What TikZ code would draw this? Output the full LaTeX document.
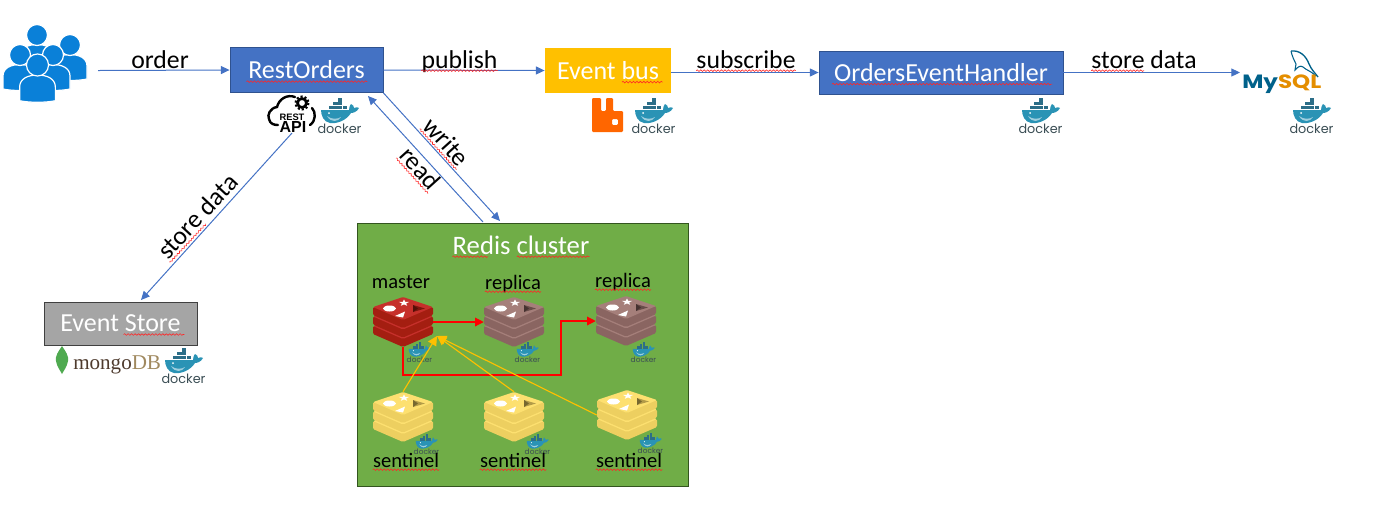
\documentclass[tikz,border=0pt]{standalone}
\usepackage{fontspec}
\setmainfont{Carlito}
\newfontfamily\logofont{Liberation Sans}
\newfontfamily\mongofont{Liberation Serif}
\newfontfamily\dockerfont{Poppins}
\usetikzlibrary{arrows.meta,calc,decorations.pathmorphing}
\definecolor{flowblue}{HTML}{4472C4}
\definecolor{boxedge}{HTML}{2F528F}
\definecolor{busgold}{HTML}{FFC000}
\definecolor{storegrey}{HTML}{A5A5A5}
\definecolor{redisgreen}{HTML}{70AD47}
\definecolor{redisedge}{HTML}{33551F}
\definecolor{crowdblue}{HTML}{0A80D8}
\definecolor{whaleblue}{HTML}{2A93B5}
\definecolor{whalecrate}{HTML}{2C6E88}
\definecolor{dockergrey}{HTML}{3A4D54}
\definecolor{rabbitorange}{HTML}{FF6600}
\definecolor{leafgreen}{HTML}{4FAA50}
\definecolor{mongobrown}{HTML}{4E3B2E}
\definecolor{mongotan}{HTML}{A0895F}
\definecolor{mysqlblue}{HTML}{00618A}
\definecolor{mysqlorange}{HTML}{E48E00}
\def\pxu{.75pt}
\tikzset{
  flow/.style={draw=flowblue,line width=.75pt,-{Triangle[length=6.5pt,width=6pt]}},
  failover/.style={draw=red,line width=.85pt,-{Triangle[length=6.5pt,width=6.5pt]}},
  watch/.style={draw=busgold,line width=.85pt,-{Triangle[length=7pt,width=7pt]}},
  squiggle/.style={draw=red!85,line width=.45pt,decorate,decoration={snake,amplitude=.6pt,segment length=2.6pt}},
  servicebox/.style={draw=boxedge,line width=.65pt,fill=flowblue,text=white,font=\fontsize{19.5pt}{20pt}\selectfont},
  flowlabel/.style={inner sep=0pt,anchor=base,font=\fontsize{19.3pt}{20pt}\selectfont},
  rolelabel/.style={inner sep=0pt,anchor=base,font=\fontsize{15.4pt}{16pt}\selectfont},
  pics/dockerlogo/.style={code={
    \fill[whaleblue] (3,12) -- (31,12) .. controls (31,9) and (32,7) .. (33,6)
      .. controls (35,7) and (36,8) .. (36,10) .. controls (38,9) and (40,9) .. (41,10)
      .. controls (39,14) and (35,15) .. (33,15) .. controls (28,23) and (18,26) .. (12,25)
      .. controls (6,24) and (3,18) .. (3,12) -- cycle;
    \fill[whaleblue!45] (9,18) .. controls (14,22) and (20,21) .. (23,19)
      .. controls (20,24) and (13,25) .. (9,18) -- cycle;
    \foreach \cx/\cy in {10.5/7.5,15.2/7.5,19.9/7.5,24.6/7.5,15.2/3.5,19.9/3.5,19.9/0}
      \fill[whalecrate] (\cx,\cy) rectangle ++(4.4,3.8);
    \fill[white] (11,15) circle [radius=1];
    \node[transform shape,inner sep=0pt,anchor=base,text=dockergrey,
      font=\dockerfont\fontsize{9.6pt}{10pt}\selectfont] (-word) at (21.5,35) {docker};
  }},
  pics/redisstack/.style 2 args={code={
    \foreach \o in {19,9.5,0}{
      \fill[#2,rounded corners=1pt] (0,10+\o) -- (0,18+\o) -- (30,31+\o) -- (60,18+\o) -- (60,10+\o) -- cycle;
      \fill[#1,rounded corners=1pt] (0,10+\o) -- (30,0+\o) -- (60,10+\o) -- (30,23+\o) -- cycle;
    }
    \fill[white] (16.5,11.5) ellipse [x radius=6.5,y radius=3];
    \fill[white] (31,2.5) -- (29.7,4.9) -- (25.8,4.9) -- (28.9,6.4) -- (27.8,8.8) -- (31,7.4)
      -- (34.2,8.8) -- (33.1,6.4) -- (36.2,4.9) -- (32.3,4.9) -- cycle;
    \fill[white] (22,19) -- (32,14.5) -- (30,20.5) -- cycle;
    \fill[#2!75!black] (40,8) -- (52,11.5) -- (40,15) -- cycle;
    \fill[#2!50!black] (40,8) -- (45,11.5) -- (40,15) -- cycle;
    \node[inner sep=0pt,minimum width=60*\pxu,minimum height=50*\pxu] (-box) at (30,25) {};
  }},
  pics/personicon/.style={code={
    \filldraw[crowdblue,draw=white,line width=.9pt] (-17,34) -- (-17,21) .. controls (-17,13) and (-9,9.5) .. (0,9.5)
      .. controls (9,9.5) and (17,13) .. (17,21) -- (17,34) .. controls (8,36) and (-8,36) .. (-17,34) -- cycle;
    \filldraw[crowdblue,draw=white,line width=.9pt] (0,0) circle [radius=10.5];
  }},
}
% Underline for a spell-checked word: node, then start and end as fractions of its width.
\newcommand{\spell}[3]{
  \draw[squiggle] ($(#1.base west)!#2!(#1.base east)+(#1.base west)!2pt!-90:(#1.base east)-(#1.base west)$)
    -- ($(#1.base west)!#3!(#1.base east)+(#1.base west)!2pt!-90:(#1.base east)-(#1.base west)$);
}
\begin{document}
\begin{tikzpicture}[x=\pxu,y=-\pxu]
\useasboundingbox (0,0) rectangle (1377,512);

% Clients.
\foreach \n/\x/\y/\s in {clienta/37/35/1,clientb/70/45/1,clientc/20/55/1,clientd/53/55/1,cliente/37.5/65/1.05}
  \pic[scale=\s] (\n) at (\x,\y) {personicon};

% Services.
\node[servicebox,minimum width=153*\pxu,minimum height=45*\pxu] (restorders) at (306.5,70) {RestOrders};
\node[servicebox,draw=none,fill=busgold,minimum width=126*\pxu,minimum height=45*\pxu] (eventbus) at (608,70.5) {Event bus};
\node[servicebox,minimum width=244*\pxu,minimum height=43*\pxu] (eventhandler) at (941,72.5) {OrdersEventHandler};
\node[servicebox,draw=black!75,fill=storegrey,minimum width=153*\pxu,minimum height=43*\pxu] (eventstore) at (120.5,323.5) {Event Store};
\node[draw=redisedge,line width=.65pt,fill=redisgreen,minimum width=331*\pxu,minimum height=263*\pxu] (rediscluster) at (522.5,354.5) {};

\spell{restorders}{.11}{.895}
\spell{eventhandler}{.055}{.955}
\spell{eventbus}{.61}{.93}
\spell{eventstore}{.52}{.915}

% Free ends of the connectors.
\coordinate (crowdout) at (98,70.5);
\coordinate (writeend) at (500,221);
\coordinate (readstart) at (483,222);
\coordinate (readend) at (368,96);
\coordinate (apiout) at (292,133);
\coordinate (storein) at (141,300);
\coordinate (mysqlin) at (1240,72.5);
\coordinate (masterin) at (437,336);
\coordinate (redisbend) at (561,375);

\draw[flow] (crowdout) -- (restorders.west);
\draw[flow] (restorders.east) -- (eventbus.west);
\draw[flow] (eventbus.east |- eventhandler.west) -- (eventhandler.west);
\draw[flow] (eventhandler.east) -- (mysqlin);
\draw[flow] (restorders.south east) -- (writeend);
\draw[flow] (readstart) -- (readend);
\draw[flow] (apiout) -- (storein);

\node[flowlabel] (orderlabel) at (160,68) {order};
\node[flowlabel] (publishlabel) at (459.5,68) {publish};
\node[flowlabel] (subscribelabel) at (746,68) {subscribe};
\node[flowlabel] (storelabel) at (1144,68) {store data};
\node[flowlabel,rotate=-48] (writelabel) at (440,147.5) {write};
\node[flowlabel,rotate=-48] (readlabel) at (414,174) {read};
\node[flowlabel,rotate=47] (apilabel) at (204,222) {store data};
\spell{publishlabel}{0}{1}
\spell{subscribelabel}{0}{1}
\spell{storelabel}{0}{.5}
\spell{writelabel}{0}{1}
\spell{readlabel}{0}{1}
\spell{apilabel}{0}{.5}

% Redis cluster.
\node[flowlabel,text=white,font=\fontsize{20pt}{21pt}\selectfont] (redistitle) at (521,254) {Redis cluster};
\spell{redistitle}{0}{.26}
\spell{redistitle}{.47}{1}
\foreach \n/\x/\y/\t/\s in {master/373/297/C6302B/A41E11,replicaa/484/297/A57F7A/8A6561,replicab/596/296/A57F7A/8A6561,
    sentinela/373/392/FDE070/EDCF60,sentinelb/484/392/FDE070/EDCF60,sentinelc/597/390/FDE070/EDCF60}{
  \definecolor{stacktop}{HTML}{\t}
  \definecolor{stackside}{HTML}{\s}
  \pic (\n) at (\x,\y) {redisstack={stacktop}{stackside}};
}
\foreach \n/\x/\y in {dockerm/407/342,dockerr/515/342,dockerq/631/342,dockera/414/434,dockerb/525/434,dockerc/638/433}
  \pic[scale=.58] (\n) at (\x,\y) {dockerlogo};

\node[rolelabel] (masterlabel) at (401,288) {master};
\node[rolelabel] (replicalabela) at (513,289) {replica};
\node[rolelabel] (replicalabelb) at (623,287) {replica};
\node[rolelabel] (sentinellabela) at (406,467) {sentinel};
\node[rolelabel] (sentinellabelb) at (513,467) {sentinel};
\node[rolelabel] (sentinellabelc) at (629,467) {sentinel};
\foreach \n in {replicalabela,replicalabelb,sentinellabela,sentinellabelb,sentinellabelc}{
  \spell{\n}{0}{1}
}

\draw[failover] (master-box.east) -- (replicaa-box.west);
\draw[failover] (master-box.south) |- (redisbend) |- (replicab-box.west);
\draw[watch] (sentinela-box.north) -- (masterin);
\draw[watch] (sentinelb-box.north) -- (masterin);
\draw[watch] (sentinelc-box.west) -- (masterin);

% Product logos.
\foreach \n/\x/\y in {dockerapi/318/98,dockerbus/632/98,dockerhandler/1019/98,dockermysql/1290/98,dockermongo/162/348}
  \pic (\n) at (\x,\y) {dockerlogo};

% REST API cloud with its gear.
\draw[line width=1.8pt,line cap=round] (295,97) .. controls (287,94) and (279,99) .. (277,107)
  .. controls (270,108) and (267,115) .. (269,119) .. controls (270,124) and (274,125) .. (278,125);
\draw[line width=1.8pt,line cap=round] (312,108) .. controls (316,112) and (316,121) .. (310,125);
\draw[line width=2pt] (302,103) circle [radius=4.5];
\draw[line width=1.5pt,dash pattern=on 1.6pt off 1.5pt] (302,103) circle [radius=6.5];
\node[inner sep=0pt,font=\logofont\bfseries\fontsize{7pt}{8pt}\selectfont] (restword) at (292,117) {REST};
\node[inner sep=0pt,font=\logofont\bfseries\fontsize{12pt}{13pt}\selectfont] (apiword) at (293,127) {API};

% RabbitMQ.
\fill[rabbitorange,even odd rule,rounded corners=.8pt] (592,98) -- (601,98) -- (601,111) -- (606,111) -- (606,98) -- (613,98)
  -- (613,111) -- (623,111) -- (623,132) -- (592,132) -- cycle (612,119) rectangle (618,125);

% MongoDB.
\fill[leafgreen] (62,346) .. controls (66,352) and (69,356) .. (68,361) .. controls (67,367) and (64,370) .. (62,374)
  .. controls (60,370) and (57,367) .. (56,361) .. controls (55,356) and (58,352) .. (62,346) -- cycle;
\node[inner sep=0pt,anchor=base west,font=\mongofont\fontsize{15.8pt}{16pt}\selectfont,text=mongobrown] (mongoword) at (73,369)
  {mongo\textcolor{mongotan}{DB}};

% MySQL.
\draw[mysqlblue,line width=1pt] (1291,51) .. controls (1300,50) and (1306,56) .. (1309,64)
  .. controls (1311,69) and (1315,73) .. (1318,77);
\draw[mysqlblue,line width=.8pt] (1291,51) .. controls (1292,56) and (1294,60) .. (1296,64) -- (1295,70)
  .. controls (1298,67) and (1300,65) .. (1303,67) .. controls (1306,70) and (1311,71) .. (1316,76);
\node[inner sep=0pt,anchor=base west,xscale=1.2,transform shape,font=\dockerfont\bfseries\fontsize{14.4pt}{15pt}\selectfont] (mysqlword) at (1242,88)
  {\textcolor{mysqlblue}{My}\textcolor{mysqlorange}{SQL}};
\end{tikzpicture}
\end{document}
